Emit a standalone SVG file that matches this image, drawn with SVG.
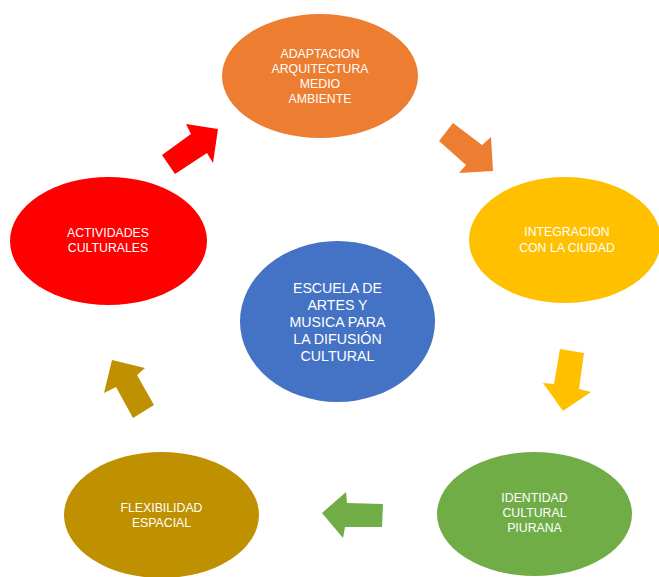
<svg xmlns="http://www.w3.org/2000/svg" width="659" height="577" viewBox="0 0 659 577">
<style>
.lbl{font-family:"Liberation Sans",Arial,sans-serif;font-size:12.3px;fill:#ffffff;text-anchor:middle}
.big{font-size:14.2px}
</style>
<rect x="0" y="0" width="659" height="577" fill="#ffffff"/>
<g id="connectors">
<polygon points="162,155 191,134 186,124 218,129 213,163 207,153 175,174" fill="#ff0000"/>
<polygon points="453,123 482,145 491,137 493,171 459,173 466,165 439,141" fill="#ed7d31"/>
<polygon points="560,349 584,353 579,389 591,392 563,411 543,383 554,384" fill="#ffc000"/>
<polygon points="322,513 346,492 347,503 383,504 382,527 345,527 343,538" fill="#70ad47"/>
<polygon points="112,360 145,368 137,375 154,405 133,418 116,387 104,393" fill="#bf9000"/>
</g>
<g id="node-adaptacion">
<ellipse cx="320" cy="76" rx="98" ry="62" fill="#ed7d31"/>
<text class="lbl" x="320" y="58">ADAPTACION</text>
<text class="lbl" x="320" y="73">ARQUITECTURA</text>
<text class="lbl" x="320" y="88">MEDIO</text>
<text class="lbl" x="320" y="103">AMBIENTE</text>
</g>
<g id="node-integracion">
<ellipse cx="565" cy="240" rx="96" ry="63" fill="#ffc000"/>
<text class="lbl" x="567" y="236">INTEGRACION</text>
<text class="lbl" x="567" y="252">CON LA CIUDAD</text>
</g>
<g id="node-identidad">
<ellipse cx="534.5" cy="514" rx="97.5" ry="62" fill="#70ad47"/>
<text class="lbl" x="534.5" y="502">IDENTIDAD</text>
<text class="lbl" x="534.5" y="517">CULTURAL</text>
<text class="lbl" x="534.5" y="532">PIURANA</text>
</g>
<g id="node-flexibilidad">
<ellipse cx="161.5" cy="515" rx="97.5" ry="63" fill="#bf9000"/>
<text class="lbl" x="161.5" y="512">FLEXIBILIDAD</text>
<text class="lbl" x="161.5" y="527">ESPACIAL</text>
</g>
<g id="node-actividades">
<ellipse cx="108.5" cy="241" rx="98.5" ry="64" fill="#ff0000"/>
<text class="lbl" x="108" y="237">ACTIVIDADES</text>
<text class="lbl" x="108" y="252">CULTURALES</text>
</g>
<g id="node-escuela">
<ellipse cx="337.5" cy="321.5" rx="97.5" ry="80.5" fill="#4472c4"/>
<text class="lbl big" x="337.5" y="293">ESCUELA DE</text>
<text class="lbl big" x="337.5" y="310">ARTES Y</text>
<text class="lbl big" x="337.5" y="327">MUSICA PARA</text>
<text class="lbl big" x="337.5" y="344">LA DIFUSIÓN</text>
<text class="lbl big" x="337.5" y="361">CULTURAL</text>
</g>
</svg>
